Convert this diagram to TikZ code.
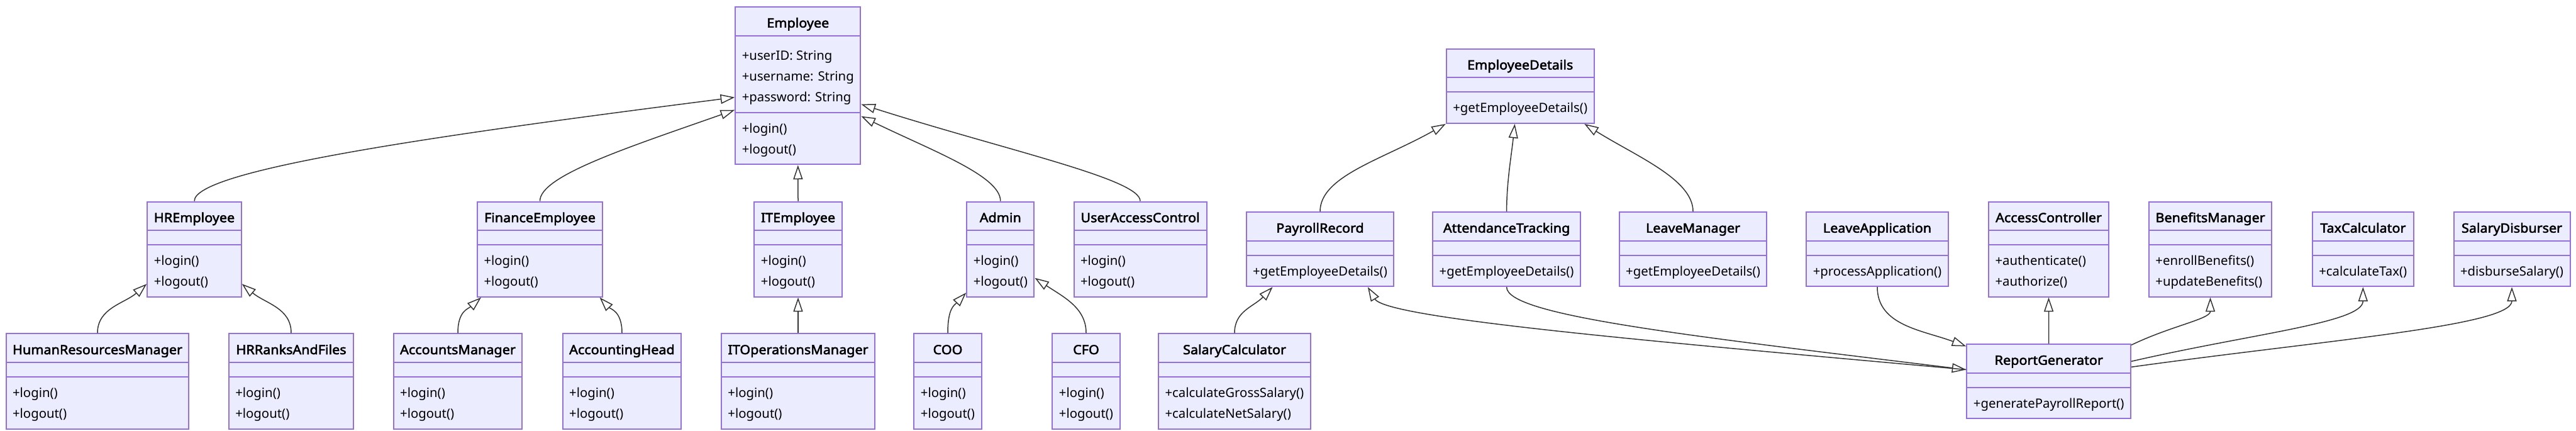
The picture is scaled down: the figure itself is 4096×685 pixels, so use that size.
\documentclass[tikz,border=0pt]{standalone}
\usepackage{fontspec}
\setmainfont{Noto Sans}[BoldFont={Noto Sans},BoldFeatures={FakeBold=2.5,FakeStretch=1.06}]
\usetikzlibrary{shapes.multipart,arrows.meta,calc}

\definecolor{umlfill}{HTML}{ECECFF}
\definecolor{umlline}{HTML}{9370DB}
\definecolor{edgecol}{HTML}{333333}

% struts for the compartments
\newcommand\ctitle[1]{\rule[-5.9pt]{0pt}{21.75pt}\textbf{#1}}
\newcommand\cnone{\rule{0pt}{10.5pt}}
\newcommand\afirst{\rule{0pt}{19pt}}
\newcommand\mfirst{\rule{0pt}{15.75pt}}
\newcommand\clast{\rule[-8.1pt]{0pt}{8.1pt}}

\begin{document}
\begin{tikzpicture}[x=0.5pt,y=-0.5pt,
  umlclass/.style={rectangle split, rectangle split parts=3,
    rectangle split part align={center,left,left},
    draw=umlline, fill=umlfill, line width=1pt, align=left,
    inner xsep=5.25pt, inner ysep=0pt, anchor=north,
    minimum width=#1*0.5pt,
    font=\fontsize{10.17pt}{16.5pt}\selectfont},
  isa/.style={draw=edgecol, line width=0.75pt,
    -{Triangle[open,length=11.3pt,width=7.5pt]}}]
\useasboundingbox (0,0) rectangle (4096,685);

% top
\node[umlclass=195] (emp) at (1268.8,10) {\ctitle{Employee}
  \nodepart{two}\afirst+userID: String\\+username: String\\+password: String\clast
  \nodepart{three}\mfirst+login()\\+logout()\clast};
\node[umlclass=233] (ed) at (2417.2,76.7) {\ctitle{EmployeeDetails}
  \nodepart{two}\cnone
  \nodepart{three}\mfirst+getEmployeeDetails()\clast};

% middle row
\node[umlclass=148] (hre) at (309,319.5) {\ctitle{HREmployee}
  \nodepart{two}\cnone
  \nodepart{three}\mfirst+login()\\+logout()\clast};
\node[umlclass=199] (fin) at (858.5,319.5) {\ctitle{FinanceEmployee}
  \nodepart{two}\cnone
  \nodepart{three}\mfirst+login()\\+logout()\clast};
\node[umlclass=138] (ite) at (1269,319.5) {\ctitle{ITEmployee}
  \nodepart{two}\cnone
  \nodepart{three}\mfirst+login()\\+logout()\clast};
\node[umlclass=104] (adm) at (1590.8,319.5) {\ctitle{Admin}
  \nodepart{two}\cnone
  \nodepart{three}\mfirst+login()\\+logout()\clast};
\node[umlclass=211] (uac) at (1813,319.5) {\ctitle{UserAccessControl}
  \nodepart{two}\cnone
  \nodepart{three}\mfirst+login()\\+logout()\clast};
\node[umlclass=232.6] (pr) at (2099,336) {\ctitle{PayrollRecord}
  \nodepart{two}\cnone
  \nodepart{three}\mfirst+getEmployeeDetails()\clast};
\node[umlclass=232.2] (att) at (2395.6,336) {\ctitle{AttendanceTracking}
  \nodepart{two}\cnone
  \nodepart{three}\mfirst+getEmployeeDetails()\clast};
\node[umlclass=232] (lm) at (2692,336) {\ctitle{LeaveManager}
  \nodepart{two}\cnone
  \nodepart{three}\mfirst+getEmployeeDetails()\clast};
\node[umlclass=225] (la) at (2985,336) {\ctitle{LeaveApplication}
  \nodepart{two}\cnone
  \nodepart{three}\mfirst+processApplication()\clast};
\node[umlclass=191] (ac) at (3257.5,319.5) {\ctitle{AccessController}
  \nodepart{two}\cnone
  \nodepart{three}\mfirst+authenticate()\\+authorize()\clast};
\node[umlclass=195] (bm) at (3514.5,319.5) {\ctitle{BenefitsManager}
  \nodepart{two}\cnone
  \nodepart{three}\mfirst+enrollBenefits()\\+updateBenefits()\clast};
\node[umlclass=161] (tc) at (3757.3,336) {\ctitle{TaxCalculator}
  \nodepart{two}\cnone
  \nodepart{three}\mfirst+calculateTax()\clast};
\node[umlclass=184] (sd) at (3994,336) {\ctitle{SalaryDisburser}
  \nodepart{two}\cnone
  \nodepart{three}\mfirst+disburseSalary()\clast};

% bottom row
\node[umlclass=290] (hrm) at (155,529.3) {\ctitle{HumanResourcesManager}
  \nodepart{two}\cnone
  \nodepart{three}\mfirst+login()\\+logout()\clast};
\node[umlclass=198.5] (hrf) at (463,529.3) {\ctitle{HRRanksAndFiles}
  \nodepart{two}\cnone
  \nodepart{three}\mfirst+login()\\+logout()\clast};
\node[umlclass=204] (acm) at (728,529.3) {\ctitle{AccountsManager}
  \nodepart{two}\cnone
  \nodepart{three}\mfirst+login()\\+logout()\clast};
\node[umlclass=188.5] (ach) at (989,529.3) {\ctitle{AccountingHead}
  \nodepart{two}\cnone
  \nodepart{three}\mfirst+login()\\+logout()\clast};
\node[umlclass=244] (itm) at (1269,529.3) {\ctitle{ITOperationsManager}
  \nodepart{two}\cnone
  \nodepart{three}\mfirst+login()\\+logout()\clast};
\node[umlclass=104] (coo) at (1507,529.3) {\ctitle{COO}
  \nodepart{two}\cnone
  \nodepart{three}\mfirst+login()\\+logout()\clast};
\node[umlclass=104.5] (cfo) at (1727,529.3) {\ctitle{CFO}
  \nodepart{two}\cnone
  \nodepart{three}\mfirst+login()\\+logout()\clast};
\node[umlclass=242] (sc) at (1963,529.3) {\ctitle{SalaryCalculator}
  \nodepart{two}\cnone
  \nodepart{three}\mfirst+calculateGrossSalary()\\+calculateNetSalary()\clast};
\node[umlclass=259] (rg) at (3257.7,546) {\ctitle{ReportGenerator}
  \nodepart{two}\cnone
  \nodepart{three}\mfirst+generatePayrollReport()\clast};

% employee hierarchy
\draw[isa] (hre.north) .. controls +(0,-49.5) and +(-471,60) .. ($(emp.two split west)+(0,-24)$);
\draw[isa] (fin.north) .. controls +(0,-40) and +(-171,60) .. ($(emp.two split west)+(0,-4)$);
\draw[isa] (ite.north) -- (emp.south);
\draw[isa] (adm.north) .. controls +(0,-40) and +(113,55) .. ($(emp.two split east)+(0,6)$);
\draw[isa] (uac.north) .. controls +(0,-35) and +(233,74) .. ($(emp.two split east)+(0,-13)$);
\draw[isa] (hrm.north) .. controls +(0,-40) and +(-35,31) .. ($(hre.south west)+(0,-21.5)$);
\draw[isa] (hrf.north) .. controls +(0,-40) and +(37,31) .. ($(hre.south east)+(0,-21.5)$);
\draw[isa] (acm.north) .. controls +(0,-35) and +(-21,18.5) .. ($(fin.south west)+(7,0)$);
\draw[isa] (ach.north) .. controls +(0,-35) and +(17.3,18.5) .. ($(fin.south east)+(-5.5,0)$);
\draw[isa] (itm.north) -- (ite.south);
\draw[isa] (coo.north) .. controls +(0,-40) and +(-18.8,20) .. ($(adm.south west)+(0,-7.5)$);
\draw[isa] (cfo.north) .. controls +(0,-40) and +(46,30.5) .. ($(adm.south east)+(0,-31)$);

% details
\draw[isa] (sc.north) .. controls +(0,-35) and +(-30.6,31.6) .. ($(pr.south west)+(43,0)$);
\draw[isa] (pr.north) .. controls +(0,-56) and +(-100.6,56.7) .. (ed.south west);
\draw[isa] (att.north) .. controls +(0,-46) and +(-5.6,51.7) .. ($(ed.south)+(-8.6,0)$);
\draw[isa] (lm.north) .. controls +(0,-51) and +(82.7,51.7) .. ($(ed.south east)+(-16.4,0)$);

% report generator
\draw[isa] ($(rg.north west)+(0,41.5)$) .. controls +(-500,-45) and +(30,50) .. ($(pr.south east)+(-42.6,0)$);
\draw[isa] (att.south) .. controls +(0,45) and +(-450,-55) .. ($(rg.north west)+(0,41.5)$);
\draw[isa] (la.south) .. controls +(0,61.6) and +(-68.3,-25.5) .. ($(rg.north west)+(0,4.5)$);
\draw[isa] (rg.north) -- (ac.south);
\draw[isa] ($(rg.north east)+(0,2.3)$) .. controls +(62.7,-30.3) and +(0,34.5) .. (bm.south);
\draw[isa] ($(rg.north east)+(0,28.3)$) .. controls +(192.7,-44.3) and +(0,56.7) .. (tc.south);
\draw[isa] ($(rg.north east)+(0,37.3)$) .. controls +(312.7,-43.3) and +(0,61.7) .. (sd.south);
\end{tikzpicture}
\end{document}
